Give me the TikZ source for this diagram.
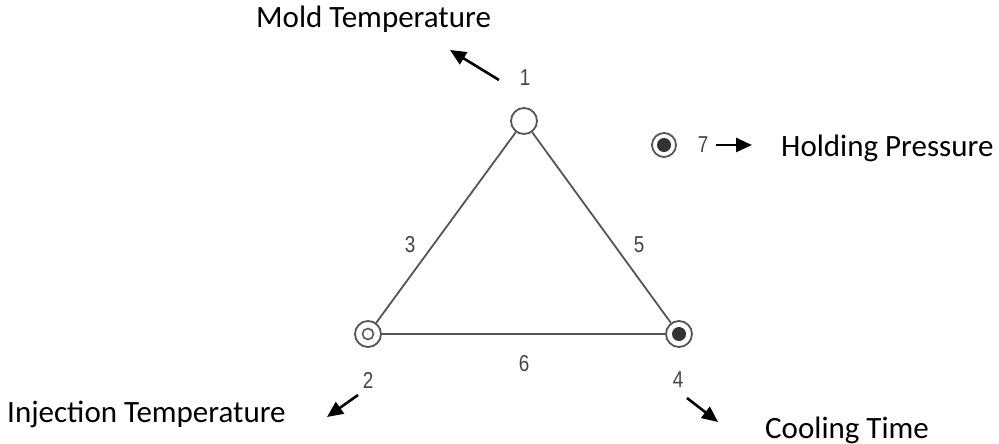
\documentclass[tikz,border=0pt]{standalone}
\usepackage{fontspec}
\setmainfont{Carlito}
\newfontfamily\numfont[FakeStretch=0.82]{Liberation Sans}
\usetikzlibrary{arrows.meta}
\definecolor{lineg}{HTML}{555555}
\definecolor{numg}{HTML}{444444}
\tikzset{
  vert/.style={circle,draw=lineg,line width=1.8pt,minimum size=26pt,inner sep=0pt,fill=white},
  ring/.style={vert,path picture={\draw[lineg,line width=1.6pt] (path picture bounding box.center) circle (5.5pt);}},
  dot/.style={vert,path picture={\fill[black!80] (path picture bounding box.center) circle (7pt);}},
  edge/.style={lineg,line width=1.8pt},
  num/.style={font=\numfont\fontsize{23}{23}\selectfont,text=numg,inner sep=0pt},
  lab/.style={font=\fontsize{31}{33}\selectfont,inner sep=0pt},
  pointer/.style={black,line width=2.6pt,-{Triangle[length=16pt,width=14pt]}}
}
\begin{document}
\begin{tikzpicture}[x=1pt,y=-1pt]
\useasboundingbox (0,0) rectangle (999,444);
\node[vert] (n1) at (524,121) {};
\node[ring] (n2) at (368,334) {};
\node[dot] (n4) at (679,334) {};
\node[dot,minimum size=24pt] (n7) at (664,145) {};
\draw[edge] (n1) -- (n2);
\draw[edge] (n1) -- (n4);
\draw[edge] (n2) -- (n4);
\node[num] (l1) at (525,78) {1};
\node[num] (l2) at (368,380) {2};
\node[num] (l4) at (678,380) {4};
\node[num] (l3) at (410,245) {3};
\node[num] (l5) at (639,245) {5};
\node[num] (l6) at (524,364) {6};
\node[num] (l7) at (703,145) {7};
\node[lab,anchor=west] (t1) at (256,19) {Mold Temperature};
\node[lab,anchor=west] (t7) at (781,148) {Holding Pressure};
\node[lab,anchor=west] (t2) at (7,414) {Injection Temperature};
\node[lab,anchor=west] (t4) at (765,430) {Cooling Time};
\coordinate (a1s) at (499,80);
\coordinate (a1e) at (450,50);
\coordinate (a2s) at (358,395);
\coordinate (a2e) at (327,417);
\coordinate (a4s) at (687,398);
\coordinate (a4e) at (718,422);
\coordinate (a7s) at (716,145);
\coordinate (a7e) at (752,145);
\draw[pointer] (a1s) -- (a1e);
\draw[pointer] (a2s) -- (a2e);
\draw[pointer] (a4s) -- (a4e);
\draw[pointer] (a7s) -- (a7e);
\end{tikzpicture}
\end{document}
